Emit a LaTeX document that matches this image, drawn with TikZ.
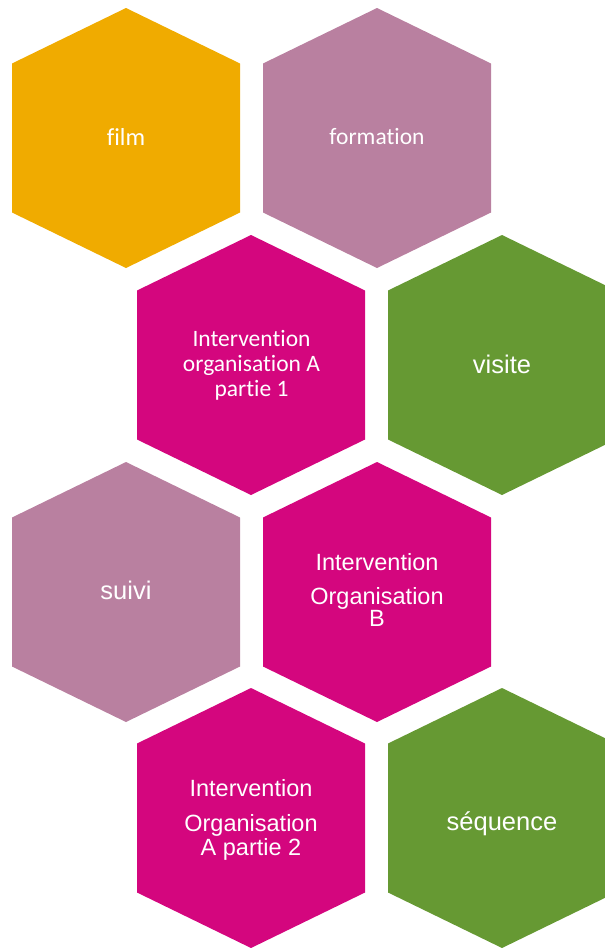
\documentclass[tikz,border=0pt]{standalone}
\usepackage{fontspec}
\setmainfont{Liberation Sans}
\newfontfamily\calibri[Ligatures={NoCommon}]{Carlito}
\definecolor{hOrange}{RGB}{240,171,0}
\definecolor{hMauve}{RGB}{185,128,160}
\definecolor{hMagenta}{RGB}{212,6,126}
\definecolor{hGreen}{RGB}{102,153,51}
\newcommand\hexa[3]{%
  \fill[#3] (#1,#2-130) -- (#1+114,#2-74.5) -- (#1+114,#2+74.5) -- (#1,#2+130)
    -- (#1-114,#2+74.5) -- (#1-114,#2-74.5) -- cycle;}
\begin{document}
\begin{tikzpicture}[x=1pt,y=-1pt,
  lbl/.style={text=white, inner sep=0pt, anchor=base},
  calA/.style={lbl, font=\calibri\fontsize{24.5}{24}\selectfont},
  calB/.style={lbl, font=\calibri\fontsize{23.5}{24}\selectfont},
  arA/.style={lbl, font=\fontsize{25.5}{26}\selectfont},
  arB/.style={lbl, font=\fontsize{23.5}{24}\selectfont}]
\useasboundingbox (0,0) rectangle (605,948);
\clip (0,0) rectangle (605,948);
\hexa{126}{138}{hOrange}
\hexa{377}{138}{hMauve}
\hexa{251}{365}{hMagenta}
\hexa{502}{365}{hGreen}
\hexa{126}{592}{hMauve}
\hexa{377}{592}{hMagenta}
\hexa{251}{818}{hMagenta}
\hexa{502}{818}{hGreen}
\node[calA] (film) at (126,145) {film};
\node[calB] (formation) at (377,144.3) {formation};
\node[calB] (ia1) at (251.5,346.7) {Intervention};
\node[calB] (ia2) at (251.5,371.7) {organisation A};
\node[calB] (ia3) at (251.5,396.7) {partie 1};
\node[arA] (visite) at (502,373) {visite};
\node[arA] (suivi) at (126,599) {suivi};
\node[arB] (ib1) at (377,570) {Intervention};
\node[arB] (ib2) at (377,604) {Organisation};
\node[arB] (ib3) at (377,626.7) {B};
\node[arB] (ic1) at (251,796.7) {Intervention};
\node[arB] (ic2) at (251,831.7) {Organisation};
\node[arB] (ic3) at (251,855) {A partie 2};
\node[arA] (sequence) at (502,830) {séquence};
\end{tikzpicture}
\end{document}
